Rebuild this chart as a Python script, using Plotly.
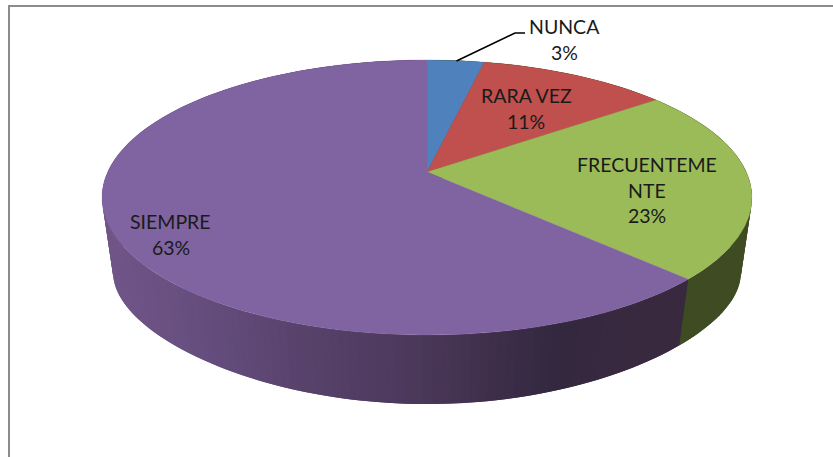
import numpy as np
import plotly.graph_objects as go

# --- data ---
categories = ["NUNCA", "RARA VEZ", "FRECUENTEMENTE", "SIEMPRE"]
shares = [3.4, 11.3, 22.7, 62.6]
slice_colors = ["#4f81bd", "#c0504d", "#9bbb59", "#8064a2"]

# --- layout of the pseudo-3D projection (pixels) ---
W, H = 833, 457
CX = 427.0
TOP_Y, TOP_A, TOP_H = 172.0, 319.3, 132.8
BOT_Y, BOT_A, BOT_H = 253.2, 308.4, 100.3
K = 0.1855
K_BOT = 0.335
WRAP = 11
FONT = "Lato"
FSIZE = 19.5
LINE_H = 25.5
label_pos = {"NUNCA": (564, 26.5), "RARA VEZ": (526, 95.5),
             "FRECUENTEMENTE": (647, 164.5), "SIEMPRE": (170.5, 221.5)}
wall_x = [112, 200, 300, 420, 500, 550, 620, 690]
wall_r = [0x70, 0x65, 0x58, 0x4a, 0x3c, 0x33, 0x38, 0x38]
wall_g = [0x55, 0x4e, 0x42, 0x37, 0x2d, 0x28, 0x29, 0x29]
wall_b = [0x88, 0x7e, 0x6b, 0x59, 0x48, 0x3f, 0x3f, 0x3f]
GREEN_WALL = "#3f4c23"


def project(theta, a, h, y0, ky=K):
    u, v = np.sin(theta), np.cos(theta)
    return CX + a * u / (1 + K * v), y0 - h * v / (1 + ky * v)


def wall_color(x, base):
    if base != slice_colors[3]:
        return GREEN_WALL
    r = np.interp(x, wall_x, wall_r)
    g = np.interp(x, wall_x, wall_g)
    b = np.interp(x, wall_x, wall_b)
    return f"rgb({r:.0f},{g:.0f},{b:.0f})"


fig = go.Figure()
edges = np.cumsum([0] + shares) / sum(shares) * 2 * np.pi

# side wall, drawn as narrow bands that carry the shading; each band reaches
# under its successor so that no seams show between them
for i, col in enumerate(slice_colors):
    n = max(2, int((edges[i + 1] - edges[i]) / (2 * np.pi) * 260))
    ts = np.linspace(edges[i], edges[i + 1], n + 1)
    step = ts[1] - ts[0]
    for t0, t1 in zip(ts[:-1], ts[1:]):
        t2 = min(t1 + step, edges[i + 1] + step)
        arc = np.linspace(t0, t2, 4)
        xa, ya = project(arc, TOP_A, TOP_H, TOP_Y)
        xb, yb = project(arc[::-1], BOT_A, BOT_H, BOT_Y, K_BOT)
        c = wall_color((xa.mean() + xb.mean()) / 2, col)
        fig.add_trace(go.Scatter(x=np.r_[xa, xb, xa[0]], y=np.r_[ya, yb, ya[0]],
                                 mode="lines", fill="toself", fillcolor=c,
                                 line=dict(color=c, width=0), hoverinfo="skip"))

# top face
for i, col in enumerate(slice_colors):
    ts = np.linspace(edges[i], edges[i + 1], 200)
    xs, ys = project(ts, TOP_A, TOP_H, TOP_Y)
    fig.add_trace(go.Scatter(x=np.r_[CX, xs, CX], y=np.r_[TOP_Y, ys, TOP_Y],
                             mode="lines", fill="toself", fillcolor=col,
                             line=dict(color=col, width=0.3), hoverinfo="skip",
                             name=categories[i]))

# leader line of the NUNCA label
fig.add_trace(go.Scatter(x=[456.5, 515, 525], y=[61, 33, 33], mode="lines",
                         line=dict(color="#000000", width=1.6), hoverinfo="skip"))

# frame
fig.add_trace(go.Scatter(x=[9, 9, W], y=[H, 6, 6], mode="lines",
                         line=dict(color="#8c8c8c", width=2), hoverinfo="skip"))

# labels
for name, val in zip(categories, shares):
    parts = [name[j:j + WRAP] for j in range(0, len(name), WRAP)] if " " not in name else [name]
    parts.append(f"{round(val)}%")
    lx, ly = label_pos[name]
    for j, p in enumerate(parts):
        fig.add_annotation(x=lx, y=ly + j * LINE_H, text=p, showarrow=False,
                           xanchor="center", yanchor="middle", xref="x", yref="y",
                           font=dict(family=FONT, size=FSIZE, color="#1a1a1a"))

fig.update_layout(width=W, height=H, margin=dict(l=0, r=0, t=0, b=0),
                  showlegend=False, paper_bgcolor="white", plot_bgcolor="white",
                  xaxis=dict(range=[0, W], visible=False, fixedrange=True),
                  yaxis=dict(range=[H, 0], visible=False, fixedrange=True))
fig.write_html("out.html", config={"displayModeBar": False},
               post_script="document.body.style.margin='0';document.documentElement.style.overflow='hidden';")
